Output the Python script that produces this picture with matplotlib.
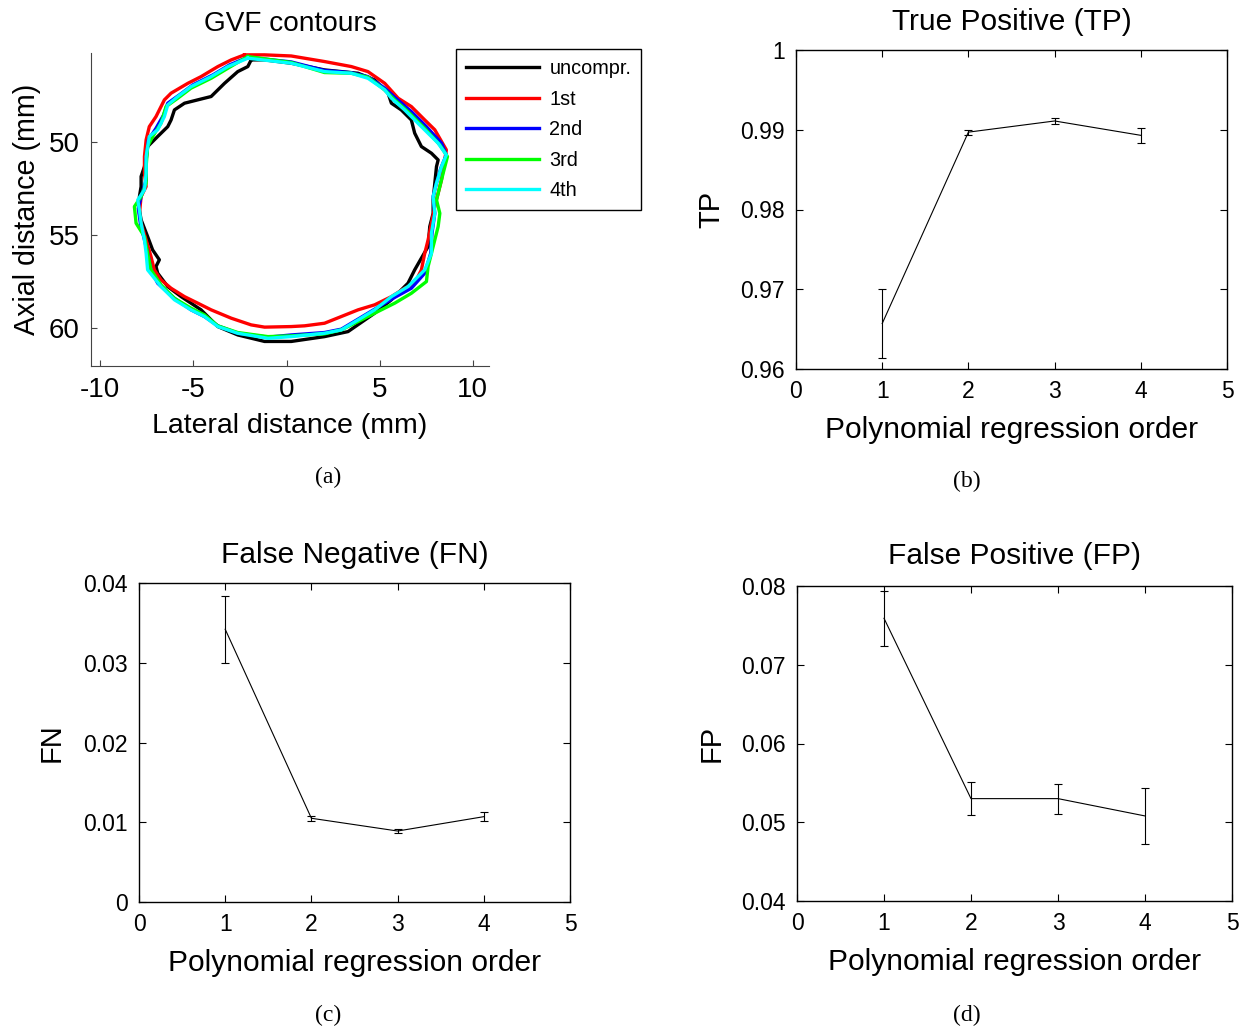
import numpy as np
import matplotlib
matplotlib.use('Agg')
import matplotlib.pyplot as plt

plt.rcParams['font.family'] = ['Liberation Sans', 'DejaVu Sans']
plt.rcParams['axes.unicode_minus'] = False

# ---- panel (a): GVF contours (mm) ----
uncompr_x = [-1.90, -2.08, -2.62, -3.33, -4.05, -4.77, -5.48, -6.02, -6.20, -6.38, -6.92, -7.46, -7.63, -7.81,
             -7.81, -7.90, -7.90, -7.81, -7.46, -7.19, -6.83, -7.01, -6.92, -6.38, -5.66, -4.59, -3.69, -2.62,
             -1.18, 0.25, 2.04, 3.30, 4.73, 5.63, 6.52, 6.88, 7.24, 7.60, 7.69, 7.87, 7.87, 7.96, 8.05, 8.14,
             7.78, 7.24, 6.88, 6.70, 6.16, 5.63, 5.45, 4.73, 3.84, 2.04, 0.25, -1.18, -1.90]
uncompr_y = [45.59, 45.95, 46.22, 46.85, 47.56, 47.74, 47.92, 48.28, 48.82, 49.18, 49.71, 50.25, 51.33, 51.86,
             52.40, 52.94, 53.66, 54.19, 55.09, 55.81, 56.34, 56.70, 57.06, 57.78, 58.32, 59.03, 59.93, 60.38,
             60.73, 60.73, 60.47, 60.20, 59.21, 58.49, 57.60, 56.88, 56.25, 55.63, 54.55, 53.84, 53.12, 52.22,
             51.33, 50.97, 50.61, 50.25, 49.53, 48.82, 48.28, 47.92, 47.38, 46.67, 46.31, 46.13, 45.77, 45.59, 45.59]

first_x = [-2.26, -1.18, 0.25, 2.04, 3.48, 4.37, 5.27, 5.99, 6.70, 7.42, 7.96, 8.58, 8.49, 8.32, 8.14, 7.96,
           7.78, 7.60, 7.42, 7.24, 6.88, 6.34, 5.63, 4.73, 3.84, 2.94, 2.04, 0.97, 0.25, -1.18, -1.90, -2.97,
           -4.05, -4.77, -5.48, -6.20, -6.74, -7.10, -7.28, -7.54, -7.81, -7.90, -7.81, -7.54, -7.63, -7.63,
           -7.54, -7.37, -7.01, -6.56, -6.20, -5.30, -4.59, -3.69, -2.97, -2.26]
first_y = [45.32, 45.32, 45.38, 45.68, 45.95, 46.22, 46.85, 47.65, 48.10, 48.82, 49.35, 50.43, 50.97, 52.04,
           52.76, 53.48, 54.37, 55.27, 55.99, 56.88, 57.60, 57.87, 58.32, 58.76, 59.03, 59.39, 59.75, 59.89,
           59.93, 59.96, 59.84, 59.48, 59.03, 58.67, 58.32, 57.87, 57.42, 56.88, 56.16, 55.27, 54.37, 53.84,
           52.94, 52.40, 51.68, 50.79, 49.89, 49.18, 48.64, 47.74, 47.38, 46.85, 46.49, 45.95, 45.59, 45.32]

second_x = [-2.08, 0.25, 2.04, 3.48, 4.37, 5.27, 5.81, 6.70, 7.51, 8.32, 8.58, 8.28, 8.05, 7.87, 7.96, 7.81,
            7.74, 7.42, 6.70, 5.72, 4.82, 3.84, 2.94, 2.04, 0.25, -1.00, -2.62, -3.69, -4.41, -5.13, -6.02,
            -6.92, -7.28, -7.46, -7.63, -7.85, -7.96, -7.81, -7.54, -7.54, -7.42, -7.01, -6.60, -6.38, -5.75,
            -5.04, -3.96, -3.06, -2.08]
second_y = [45.45, 45.70, 46.16, 46.28, 46.49, 47.11, 47.60, 48.37, 49.18, 50.07, 50.70, 51.42, 52.22, 52.94,
            53.84, 54.91, 55.99, 57.06, 57.87, 58.41, 58.94, 59.53, 60.07, 60.25, 60.38, 60.50, 60.29, 59.89,
            59.39, 59.03, 58.41, 57.60, 56.88, 55.99, 55.27, 54.37, 53.57, 52.94, 52.04, 51.00, 49.89, 49.27,
            48.55, 47.92, 47.47, 46.94, 46.40, 45.86, 45.45]

third_x = [-2.08, 0.25, 2.04, 3.48, 4.37, 5.27, 5.81, 6.52, 7.42, 8.23, 8.64, 8.41, 8.23, 8.05, 8.23, 8.14,
           7.96, 7.78, 7.60, 7.51, 6.70, 5.81, 4.91, 3.84, 2.94, 2.04, 0.25, -1.00, -2.62, -3.69, -4.41, -5.13,
           -6.02, -6.74, -7.28, -7.46, -7.63, -8.08, -8.17, -7.81, -7.54, -7.54, -7.46, -7.19, -6.74, -6.47,
           -5.84, -5.13, -4.05, -3.15, -2.08]
third_y = [45.41, 45.73, 46.27, 46.31, 46.52, 47.20, 47.74, 48.37, 49.27, 50.16, 50.79, 51.68, 52.40, 53.12,
           53.84, 54.55, 55.27, 55.99, 56.70, 57.51, 58.14, 58.67, 59.12, 59.66, 60.11, 60.32, 60.43, 60.47,
           60.25, 59.89, 59.30, 58.94, 58.41, 57.69, 56.88, 55.99, 55.09, 54.37, 53.48, 52.94, 52.22, 51.33,
           50.25, 49.71, 49.00, 48.10, 47.65, 47.11, 46.58, 46.04, 45.41]

fourth_x = [-2.08, 0.25, 2.04, 3.48, 4.37, 5.27, 5.63, 6.34, 7.24, 8.14, 8.58, 8.32, 8.05, 7.87, 7.96, 7.78,
            7.78, 7.42, 6.52, 5.63, 4.73, 3.84, 2.94, 2.04, 0.25, -1.00, -2.62, -3.69, -4.41, -5.13, -6.02,
            -6.74, -7.46, -7.54, -7.63, -7.81, -7.90, -7.99, -7.63, -7.54, -7.54, -7.37, -6.92, -6.56, -6.38,
            -5.84, -5.13, -4.05, -3.15, -2.08]
fourth_y = [45.50, 45.77, 46.22, 46.31, 46.58, 47.20, 47.65, 48.28, 49.18, 50.07, 50.70, 51.33, 52.22, 52.94,
            53.84, 54.91, 55.99, 56.88, 57.78, 58.32, 59.03, 59.57, 60.11, 60.29, 60.47, 60.56, 60.29, 59.93,
            59.39, 59.03, 58.49, 57.78, 56.88, 55.99, 55.27, 54.37, 53.66, 53.12, 52.58, 51.68, 50.79, 49.71,
            49.35, 48.64, 48.01, 47.56, 47.03, 46.49, 45.95, 45.50]

contour_labels = ['uncompr.', '1st', '2nd', '3rd', '4th']
contour_colors = ['k', 'r', 'b', (0, 1, 0), (0, 1, 1)]

# ---- panels (b)-(d): metrics vs regression order ----
order = [1, 2, 3, 4]
tp = [0.9657, 0.9897, 0.9911, 0.9893]
tp_err = [0.0043, 0.0003, 0.0004, 0.0009]
fn = [0.0342, 0.0105, 0.0089, 0.0107]
fn_err = [0.0042, 0.0003, 0.0003, 0.0006]
fp = [0.0759, 0.0530, 0.0530, 0.0508]
fp_err = [0.0035, 0.0021, 0.0019, 0.0036]

W, H = 1244, 1029
fig = plt.figure(figsize=(W / 100, H / 100), dpi=100)


def box(l, t, r, b):
    return [l / W, 1 - b / H, (r - l) / W, (b - t) / H]


# (a)
ax = fig.add_axes(box(91, 53, 489, 366))
contours = [(uncompr_x, uncompr_y), (first_x, first_y), (second_x, second_y),
            (third_x, third_y), (fourth_x, fourth_y)]
for (cx, cy), lab, col in zip(contours, contour_labels, contour_colors):
    ax.plot(cx, cy, color=col, lw=2.4, label=lab)
ax.set_xlim(-10.5, 10.87)
ax.set_ylim(62.05, 45.22)
ax.set_xticks([-10, -5, 0, 5, 10])
ax.set_yticks([50, 55, 60])
ax.spines['top'].set_visible(False)
ax.spines['right'].set_visible(False)
for s in ['left', 'bottom']:
    ax.spines[s].set_linewidth(0.8)
    ax.spines[s].set_color('#444444')
ax.tick_params(direction='in', length=4, width=0.8, labelsize=20, pad=8, colors='#444444', labelcolor='black')
ax.set_title('GVF contours', fontsize=20.2, pad=16)
ax.set_xlabel('Lateral distance (mm)', fontsize=20.5, labelpad=7)
ax.set_ylabel('Axial distance (mm)', fontsize=20.6, labelpad=5.5)
leg = ax.legend(loc='upper left', bbox_to_anchor=(456 / W, 1 - 49 / H), bbox_transform=fig.transFigure,
                borderaxespad=0, fontsize=14.3, handlelength=3.7, handletextpad=0.5, labelspacing=0.585,
                fancybox=False, framealpha=1, borderpad=0.5)
leg.get_frame().set_edgecolor('black')
leg.get_frame().set_linewidth(1.0)


def metric_panel(rect, y, yerr, ylim, yticks, ylabel, title, tpad, ypad):
    a = fig.add_axes(rect)
    a.errorbar(order, y, yerr=yerr, color='black', lw=0.8, elinewidth=0.8, capsize=3, capthick=0.8)
    a.set_xlim(0, 5)
    a.set_ylim(*ylim)
    a.set_xticks([0, 1, 2, 3, 4, 5])
    a.set_yticks(yticks)
    a.set_yticklabels([('%g' % v) for v in yticks])
    a.tick_params(direction='in', length=5, width=0.8, labelsize=16.5, pad=8,
                  top=True, right=True)
    for s in a.spines.values():
        s.set_linewidth(1.0)
    a.set_xlabel('Polynomial regression order', fontsize=21.6, labelpad=9)
    a.set_ylabel(ylabel, fontsize=21, labelpad=ypad)
    a.set_title(title, fontsize=21.5, pad=tpad)
    return a


metric_panel(box(796, 50, 1227, 369), tp, tp_err, (0.96, 1.0), [0.96, 0.97, 0.98, 0.99, 1.0],
             'TP', 'True Positive (TP)', 14.5, 11)
metric_panel(box(139, 583, 570, 902), fn, fn_err, (0, 0.04), [0, 0.01, 0.02, 0.03, 0.04],
             'FN', 'False Negative (FN)', 14.5, 13)
metric_panel(box(797, 586, 1232, 901), fp, fp_err, (0.04, 0.08), [0.04, 0.05, 0.06, 0.07, 0.08],
             'FP', 'False Positive (FP)', 16, 11)

captions = ['(a)', '(b)', '(c)', '(d)']
cap_pos = [(328, 477), (967, 481), (328, 1015), (967, 1015)]
for c, (px, py) in zip(captions, cap_pos):
    fig.text(px / W, 1 - py / H, c, ha='center', va='center', fontsize=17, family='Liberation Serif')

fig.savefig('out.png', dpi=100)
